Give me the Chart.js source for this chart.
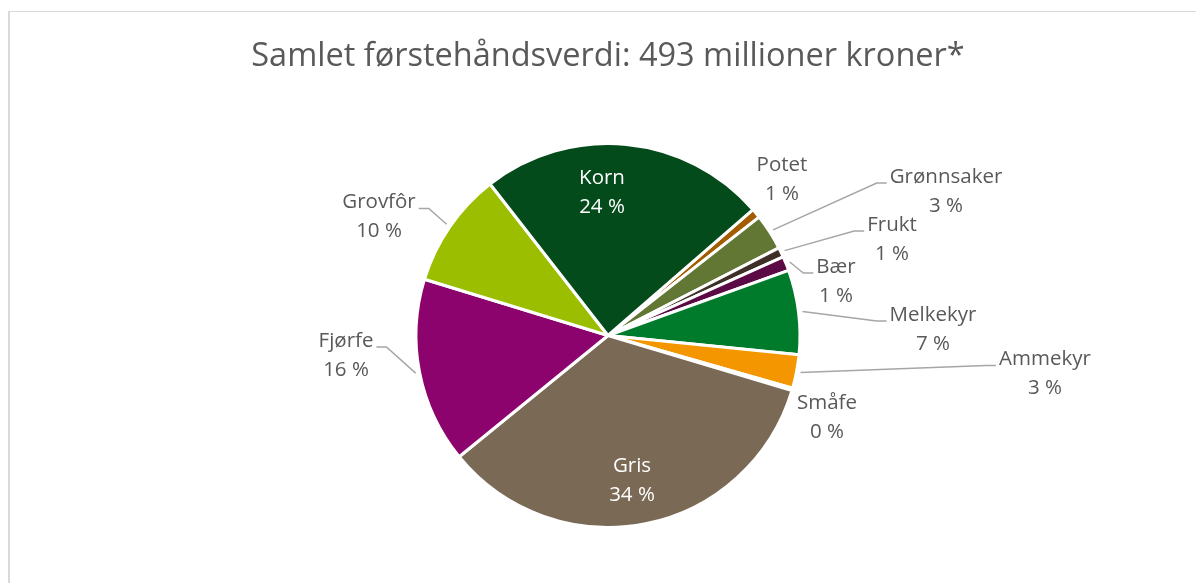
<!DOCTYPE html>
<html lang="no">
<head>
<meta charset="utf-8">
<title>Samlet førstehåndsverdi</title>
<script src="https://cdn.jsdelivr.net/npm/chart.js@4.4.1/dist/chart.umd.min.js"></script>
<style>
	html, body { margin: 0; padding: 0; background: #ffffff; }
	#wrap { position: relative; width: 1196px; height: 583px; overflow: hidden; }
	#frame {
		position: absolute; left: 8px; top: 11px; right: -4px; bottom: -4px;
		border-top: 1px solid #d9d9d9; border-left: 2px solid #d9d9d9;
	}
	#chart { position: absolute; left: 0; top: 0; }
</style>
</head>
<body>
<div id="wrap">
	<div id="frame"></div>
	<canvas id="chart" width="1196" height="583"></canvas>
</div>
<script>
( function () {
	'use strict';

	var TITLE = 'Samlet førstehåndsverdi: 493 millioner kroner*';

	// Verdi per produksjon, millioner kroner.
	var categories = [ 'Potet', 'Grønnsaker', 'Frukt', 'Bær', 'Melkekyr', 'Ammekyr', 'Småfe', 'Gris', 'Fjørfe', 'Grovfôr', 'Korn' ];
	var values     = [ 4, 15, 4, 6, 35, 14, 1, 170, 77, 48, 119 ];

	var colours = [ '#a35c00', '#617733', '#3e3027', '#5b0a45', '#007b2c', '#f39600', '#b89566', '#7a6955', '#8c036e', '#9bbf00', '#034b1b' ];

	// Label block centre, offset from the pie centre (px), and whether it gets a leader line.
	var labelLayout = [
		{ dx: 174,  dy: -156,  leader: false, inside: false },
		{ dx: 338,  dy: -144,  leader: true,  inside: false },
		{ dx: 284,  dy: -96,   leader: true,  inside: false },
		{ dx: 228,  dy: -54,   leader: true,  inside: false },
		{ dx: 325,  dy: -6,    leader: true,  inside: false },
		{ dx: 437,  dy: 38.5,  leader: true,  inside: false },
		{ dx: 219,  dy: 82,    leader: false, inside: false },
		{ dx: 24,   dy: 145.5, leader: false, inside: true  },
		{ dx: -262, dy: 20,    leader: true,  inside: false },
		{ dx: -229, dy: -118.5, leader: true, inside: false },
		{ dx: -6,   dy: -143,  leader: false, inside: true  }
	];

	var FONT      = "'Open Sans', 'Noto Sans', sans-serif";
	var TEXT_GREY = '#595959';
	var LINE_GREY = '#a6a6a6';
	var LINE_GAP  = 29;

	var total = values.reduce( function ( a, b ) { return a + b; }, 0 );

	function pctText( v ) {
		return Math.round( v / total * 100 ) + ' %';
	}

	var pieLabels = {
		id: 'pieLabels',
		afterDatasetsDraw: function ( chart ) {
			var ctx  = chart.ctx;
			var arcs = chart.getDatasetMeta( 0 ).data;
			if ( ! arcs.length ) return;

			var cx = arcs[ 0 ].x;
			var cy = arcs[ 0 ].y;

			ctx.save();

			// Title, centred over the pie.
			ctx.font = '32.5px ' + FONT;
			ctx.fillStyle = TEXT_GREY;
			ctx.textAlign = 'center';
			ctx.textBaseline = 'middle';
			ctx.fillText( TITLE, cx, 57 );

			ctx.font = '20.5px ' + FONT;

			arcs.forEach( function ( arc, i ) {
				var p   = arc.getProps( [ 'startAngle', 'endAngle', 'outerRadius' ], true );
				var lay = labelLayout[ i ];
				var bx  = cx + lay.dx;
				var by  = cy + lay.dy;
				var name = categories[ i ];
				var pct  = pctText( values[ i ] );

				if ( lay.leader ) {
					var mid = ( p.startAngle + p.endAngle ) / 2;
					var r   = p.outerRadius + 4;
					var sx  = cx + Math.cos( mid ) * r;
					var sy  = cy + Math.sin( mid ) * r;
					var half = Math.max( ctx.measureText( name ).width, ctx.measureText( pct ).width ) / 2;
					var ly  = by - LINE_GAP / 2 + 6;
					var edge, elbow;
					if ( lay.dx > 0 ) {
						edge  = bx - half - 3;
						elbow = edge - 10;
					} else {
						edge  = bx + half + 3;
						elbow = edge + 10;
					}
					ctx.strokeStyle = LINE_GREY;
					ctx.lineWidth = 1.5;
					ctx.beginPath();
					ctx.moveTo( sx, sy );
					ctx.lineTo( elbow, ly );
					ctx.lineTo( edge, ly );
					ctx.stroke();
				}

				ctx.fillStyle = lay.inside ? '#ffffff' : TEXT_GREY;
				ctx.textAlign = 'center';
				ctx.textBaseline = 'middle';
				ctx.fillText( name, bx, by - LINE_GAP / 2 );
				ctx.fillText( pct, bx, by + LINE_GAP / 2 );
			} );

			ctx.restore();
		}
	};

	new Chart( document.getElementById( 'chart' ), {
		type: 'pie',
		data: {
			labels: categories,
			datasets: [ {
				data:            values,
				backgroundColor: colours,
				borderColor:     '#ffffff',
				borderWidth:     3
			} ]
		},
		options: {
			responsive: false,
			animation:  false,
			rotation:   49,
			layout: {
				padding: { top: 142, bottom: 54, left: 200, right: 180 }
			},
			plugins: {
				legend:  { display: false },
				tooltip: { enabled: false },
				title:   { display: false }
			}
		},
		plugins: [ pieLabels ]
	} );
} )();
</script>
</body>
</html>
